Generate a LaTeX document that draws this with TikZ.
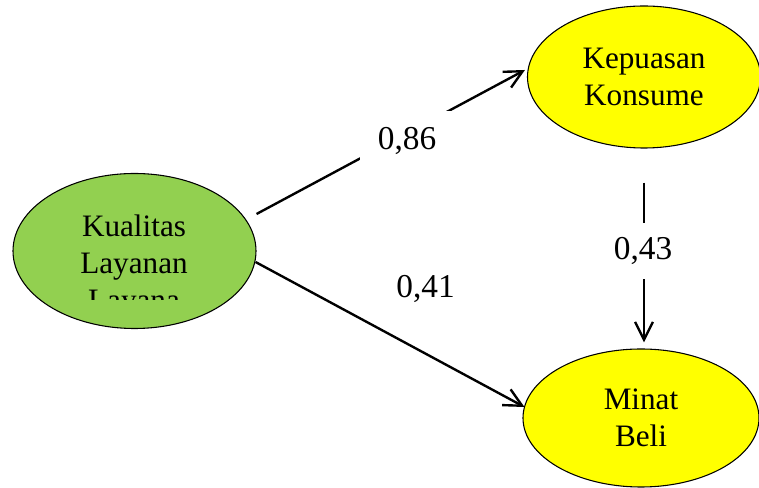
\documentclass[tikz,border=0pt]{standalone}
\usepackage{fontspec}
\setmainfont{Liberation Serif}
\usetikzlibrary{arrows.meta,calc,shapes.geometric}
\definecolor{kgreen}{HTML}{92D050}
\definecolor{kyellow}{HTML}{FFFF00}
\begin{document}
\begin{tikzpicture}[x=0.42pt,y=-0.42pt,
  kvar/.style={draw,ellipse,line width=0.45pt,inner sep=0pt,align=center,font=\fontsize{13.1}{15.5}\selectfont},
  ktext/.style={inner sep=0pt,align=center,font=\fontsize{13.1}{15.5}\selectfont},
  kpath/.style={line width=1pt,-{Straight Barb[length=7.5pt,width=7.5pt]}},
  kcoef/.style={inner sep=0pt,font=\fontsize{14}{16}\selectfont}]
\pgfmathsetmacro{\kpx}{0.42}
\useasboundingbox(0,0)rectangle(759,488);
% variables
\node[kvar,fill=kgreen,minimum width={\kpx*243pt},minimum height={\kpx*155pt}](KL)at(134.5,251){};
\node[kvar,fill=kyellow,minimum width={\kpx*233pt},minimum height={\kpx*142pt}](KP)at(644,77){Kepuasan\\Konsume};
\node[kvar,fill=kyellow,minimum width={\kpx*236pt},minimum height={\kpx*138pt}](MB)at(641,418){Minat\\Beli};
\begin{scope}
\clip(0,0)rectangle(759,300);
\node[ktext](KLtext)at(134,266){Kualitas\\Layanan\\Layana};
\end{scope}
% paths
\draw[kpath]($(KL.east)+(0,-37)$)--($(KP.west)+(-2,-7)$);
\draw[kpath]($(KL.east)+(-1,11)$)--($(MB.west)+(2,-11)$);
\draw[kpath]($(KP.south)+(0,34)$)--($(MB.north)+(3,-6)$);
% coefficients
\node[kcoef,fill=white,minimum width={\kpx*94pt},minimum height={\kpx*60pt}](c86)at(407,141){0,86};
\node[kcoef,fill=white,minimum width={\kpx*60pt},minimum height={\kpx*56pt}](c43)at(643,251){0,43};
\node[kcoef](c41)at(425.5,289){0,41};
\end{tikzpicture}
\end{document}
